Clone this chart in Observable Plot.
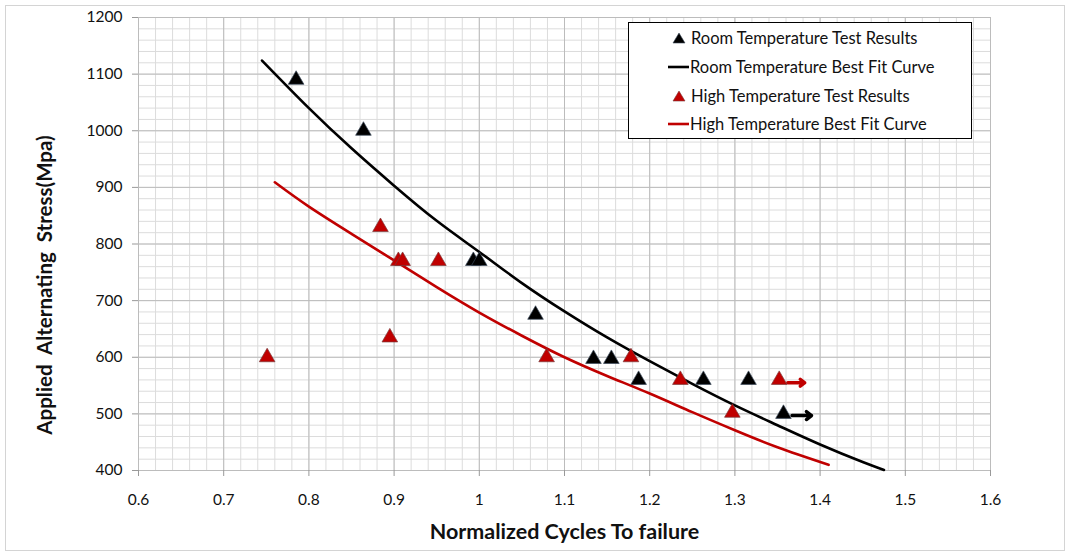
<!DOCTYPE html>
<html>
<head>
<meta charset="utf-8">
<script src="https://cdn.jsdelivr.net/npm/d3@7"></script>
<script src="https://cdn.jsdelivr.net/npm/@observablehq/plot@0.6"></script>
<style>
  html, body { margin: 0; padding: 0; background: #fff; }
  #wrap { position: relative; width: 1070px; height: 556px; overflow: hidden; }
  #frame { position: absolute; left: 5px; top: 5px; width: 1058px; height: 544px; border: 1px solid #d4d4d4; pointer-events: none; }
  svg text { white-space: pre; }
  #legend { position: absolute; left: 628px; top: 22px; width: 344px; height: 117px; border: 1.5px solid #000; background: #fff;
            font-family: Lato, "Open Sans", sans-serif; font-size: 16.5px; color: #111; box-sizing: border-box; }
  .item { position: absolute; left: 0; height: 20px; display: flex; align-items: center; white-space: nowrap; }
  .item svg { display: block; }
</style>
</head>
<body>
<div id="wrap"><div id="chart"></div><div id="frame"></div><div id="legend"></div></div>
<script>
// ---- data ----
const xTicks = [0.6, 0.7, 0.8, 0.9, 1.0, 1.1, 1.2, 1.3, 1.4, 1.5, 1.6];
const xTickLabels = ["0.6", "0.7", "0.8", "0.9", "1", "1.1", "1.2", "1.3", "1.4", "1.5", "1.6"];
const yTicks = [400, 500, 600, 700, 800, 900, 1000, 1100, 1200];
const yTickLabels = ["400", "500", "600", "700", "800", "900", "1000", "1100", "1200"];

const roomN = [0.785, 0.864, 0.993, 1.000, 1.066, 1.134, 1.155, 1.187, 1.263, 1.316, 1.357];
const roomS = [1090, 1000, 770, 770, 675, 597, 597, 560, 560, 560, 500];

const highN = [0.751, 0.884, 0.895, 0.905, 0.910, 0.952, 1.079, 1.178, 1.236, 1.297, 1.352];
const highS = [600, 830, 635, 770, 770, 770, 600, 600, 560, 502, 560];

const roomFitN = [0.745, 0.80, 0.85, 0.90, 0.95, 1.00, 1.05, 1.10, 1.15, 1.20, 1.25, 1.30, 1.35, 1.40, 1.45, 1.475];
const roomFitS = [1124, 1040, 969, 903, 841, 786, 731, 681, 635, 593, 553, 515, 480, 446, 415, 401];

const highFitN = [0.76, 0.80, 0.85, 0.90, 0.95, 1.00, 1.05, 1.10, 1.15, 1.20, 1.25, 1.30, 1.35, 1.41];
const highFitS = [909, 866, 818, 771, 724, 679, 638, 600, 567, 536, 503, 471, 441, 410];

// run-out arrows (test stopped without failure)
const arrowSeries = ["Room", "High"];
const arrowX1 = [1.367, 1.362];
const arrowX2 = [1.390, 1.382];
const arrowY = [497, 555];

const seriesNames = ["Room Temperature Test Results", "Room Temperature Best Fit Curve",
                     "High Temperature Test Results", "High Temperature Best Fit Curve"];
const xTitle = "Normalized Cycles To failure";
const yTitle = "Applied  Alternating  Stress(Mpa)";

// ---- build tables ----
const BLACK = "#000000", RED = "#c00000";
const room = roomN.map((n, i) => ({n, s: roomS[i]}));
const high = highN.map((n, i) => ({n, s: highS[i]}));
const roomFit = roomFitN.map((n, i) => ({n, s: roomFitS[i]}));
const highFit = highFitN.map((n, i) => ({n, s: highFitS[i]}));
const arrows = arrowSeries.map((k, i) => ({k, x1: arrowX1[i], x2: arrowX2[i], y: arrowY[i]}));

const xMinor = d3.range(0, 51).map(i => 0.6 + i * 0.02);
const yMinor = d3.range(0, 41).map(i => 400 + i * 20);

const chart = Plot.plot({
  width: 1070,
  height: 556,
  marginLeft: 138,
  marginRight: 80,
  marginTop: 17,
  marginBottom: 86,
  style: {fontFamily: "Lato, 'Open Sans', sans-serif", fontSize: "15px", color: "#111", background: "transparent"},
  x: {domain: [0.6, 1.6], label: null},
  y: {domain: [400, 1200], label: null},
  marks: [
    Plot.ruleX(xMinor, {stroke: "#dcdcdc", strokeWidth: 1}),
    Plot.ruleY(yMinor, {stroke: "#dcdcdc", strokeWidth: 1}),
    Plot.ruleX(xTicks, {stroke: "#bcbcbc", strokeWidth: 1}),
    Plot.ruleY(yTicks, {stroke: "#bcbcbc", strokeWidth: 1}),
    Plot.axisX({ticks: xTicks, tickFormat: (d, i) => xTickLabels[i], tickSize: 6, tickPadding: 17, stroke: "#999", fontSize: 15.5}),
    Plot.axisY({ticks: yTicks, tickFormat: (d, i) => yTickLabels[i], tickSize: 6, tickPadding: 10, stroke: "#999", fontSize: 15.5}),
    Plot.line(roomFit, {x: "n", y: "s", stroke: BLACK, strokeWidth: 2.6, curve: "natural"}),
    Plot.line(highFit, {x: "n", y: "s", stroke: RED, strokeWidth: 2.6, curve: "natural"}),
    Plot.arrow(arrows, {x1: "x1", x2: "x2", y1: "y", y2: "y", stroke: d => d.k === "Room" ? BLACK : RED,
                        strokeWidth: 3.4, headLength: 8.5, headAngle: 75}),
    Plot.dot(room, {x: "n", y: "s", symbol: "triangle", r: 5.8, fill: BLACK, stroke: "#3c4b5c", strokeWidth: 0.7}),
    Plot.dot(high, {x: "n", y: "s", symbol: "triangle", r: 5.8, fill: RED, stroke: "#7a3a3a", strokeWidth: 0.7}),
    Plot.text([yTitle], {frameAnchor: "left", textAnchor: "middle", dx: -93, dy: 41, rotate: -90, fontWeight: "bold", fontSize: 20.5, fill: "#111"}),
    Plot.text([xTitle], {frameAnchor: "bottom", textAnchor: "middle", dy: 68, fontWeight: "bold", fontSize: 21.5, fill: "#111"})
  ]
});
document.getElementById("chart").appendChild(chart);

// ---- legend ----
const legend = document.getElementById("legend");
const legendTops = [5, 34, 63, 91];
const kinds = ["tri", "line", "tri", "line"];
const colors = [BLACK, BLACK, RED, RED];
seriesNames.forEach((name, i) => {
  const div = document.createElement("div");
  div.className = "item";
  div.style.top = legendTops[i] + "px";
  let sym;
  if (kinds[i] === "tri") {
    div.style.left = "39px";
    sym = `<svg width="22" height="20"><path d="M11,5 L17,15 L5,15 Z" fill="${colors[i]}" stroke="${i === 0 ? '#3c4b5c' : '#7a3a3a'}" stroke-width="0.6"/></svg>`;
  } else {
    div.style.left = "39px";
    sym = `<svg width="22" height="20"><line x1="0" y1="10" x2="21" y2="10" stroke="${colors[i]}" stroke-width="2.6"/></svg>`;
  }
  div.innerHTML = sym + `<span style="margin-left:${kinds[i] === 'tri' ? 1 : 0}px">${name}</span>`;
  legend.appendChild(div);
});
</script>
</body>
</html>
